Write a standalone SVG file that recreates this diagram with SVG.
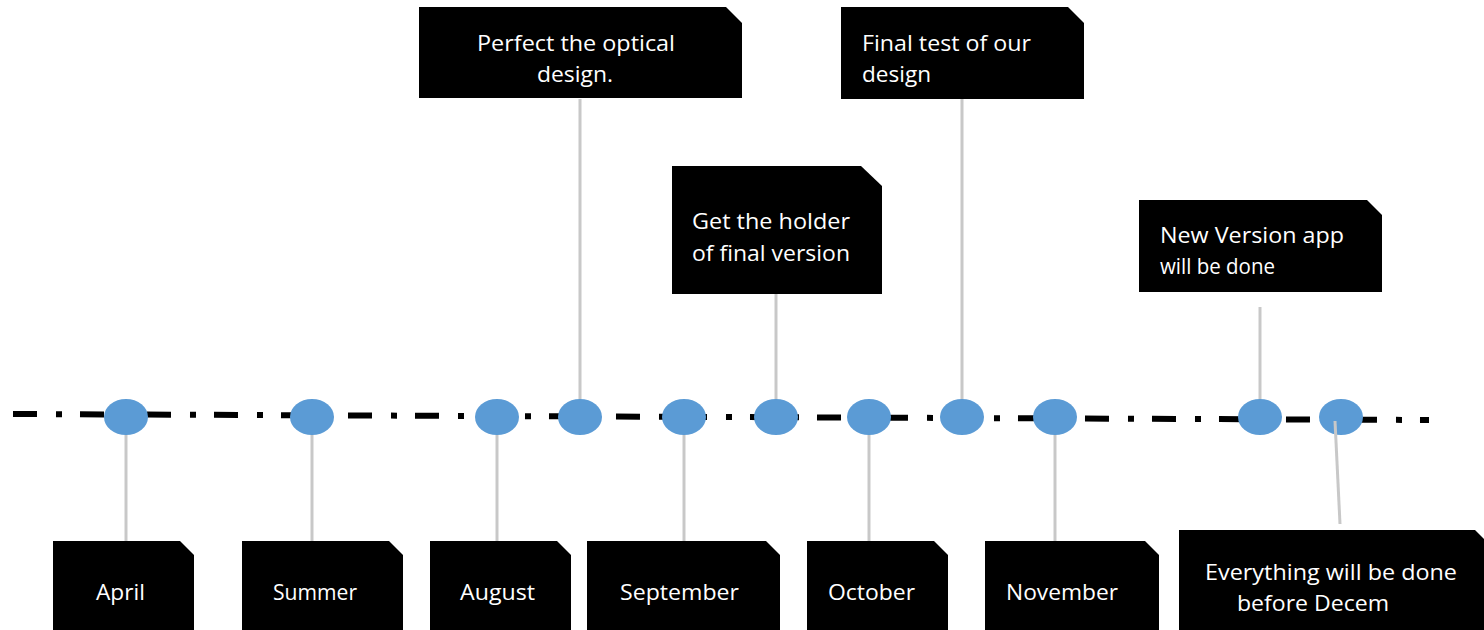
<svg xmlns="http://www.w3.org/2000/svg" width="1484" height="630" viewBox="0 0 1484 630">
<style>
.box{fill:#000}
.t{font-family:"Open Sans","Liberation Sans",sans-serif;font-size:22px;fill:#fff}
.c{text-anchor:middle}
.conn{stroke:#c8c8c8;stroke-width:3;fill:none}
.dot{fill:#5b9bd5}
</style>
<rect width="1484" height="630" fill="#fff"/>
<g id="connectors">
<line x1="13" y1="414" x2="1429" y2="420" stroke="#000" stroke-width="6" stroke-dasharray="24 19 6 18"/>
<line class="conn" x1="580" y1="99" x2="580" y2="417"/>
<line class="conn" x1="776" y1="294" x2="776" y2="417"/>
<line class="conn" x1="962" y1="99" x2="962" y2="417"/>
<line class="conn" x1="1260" y1="307" x2="1260" y2="417"/>
<line class="conn" x1="126" y1="417" x2="126" y2="541"/>
<line class="conn" x1="312" y1="417" x2="312" y2="541"/>
<line class="conn" x1="497" y1="417" x2="497" y2="541"/>
<line class="conn" x1="684" y1="417" x2="684" y2="541"/>
<line class="conn" x1="869" y1="417" x2="869" y2="541"/>
<line class="conn" x1="1055" y1="417" x2="1055" y2="541"/>
</g>
<g id="markers">
<ellipse class="dot" cx="126" cy="417" rx="22" ry="18"/>
<ellipse class="dot" cx="312" cy="417" rx="22" ry="18"/>
<ellipse class="dot" cx="497" cy="417" rx="22" ry="18"/>
<ellipse class="dot" cx="580" cy="417" rx="22" ry="18"/>
<ellipse class="dot" cx="684" cy="417" rx="22" ry="18"/>
<ellipse class="dot" cx="776" cy="417" rx="22" ry="18"/>
<ellipse class="dot" cx="869" cy="417" rx="22" ry="18"/>
<ellipse class="dot" cx="962" cy="417" rx="22" ry="18"/>
<ellipse class="dot" cx="1055" cy="417" rx="22" ry="18"/>
<ellipse class="dot" cx="1260" cy="417" rx="22" ry="18"/>
<ellipse class="dot" cx="1341" cy="417" rx="22" ry="18"/>
</g>
<g id="connector-december">
<line class="conn" x1="1335" y1="421" x2="1340" y2="524"/>
</g>
<g id="n-optical">
<path class="box" d="M419 7H726L742 23V98H419Z"/>
<text class="t c" x="576" y="51" textLength="198" lengthAdjust="spacingAndGlyphs">Perfect the optical</text>
<text class="t c" x="575" y="82" textLength="76" lengthAdjust="spacingAndGlyphs">design.</text>
</g>
<g id="n-holder">
<path class="box" d="M672 166H861L882 186V294H672Z"/>
<text class="t" x="692" y="229" textLength="158" lengthAdjust="spacingAndGlyphs">Get the holder</text>
<text class="t" x="692" y="261" textLength="158" lengthAdjust="spacingAndGlyphs">of final version</text>
</g>
<g id="n-final">
<path class="box" d="M841 7H1068L1084 23V99H841Z"/>
<text class="t" x="862" y="51" textLength="169" lengthAdjust="spacingAndGlyphs">Final test of our</text>
<text class="t" x="862" y="82" textLength="69" lengthAdjust="spacingAndGlyphs">design</text>
</g>
<g id="n-newversion">
<path class="box" d="M1139 200H1367L1382 215V292H1139Z"/>
<text class="t" x="1160" y="243" textLength="184" lengthAdjust="spacingAndGlyphs">New Version app</text>
<text class="t" x="1160" y="274" textLength="115" lengthAdjust="spacingAndGlyphs">will be done</text>
</g>
<g id="n-april">
<path class="box" d="M53 541H180L194 555V630H53Z"/>
<text class="t c" x="120.5" y="600" textLength="49" lengthAdjust="spacingAndGlyphs">April</text>
</g>
<g id="n-summer">
<path class="box" d="M242 541H389L403 555V630H242Z"/>
<text class="t c" x="315" y="600" textLength="84" lengthAdjust="spacingAndGlyphs">Summer</text>
</g>
<g id="n-august">
<path class="box" d="M430 541H557L571 555V630H430Z"/>
<text class="t c" x="497.5" y="600" textLength="75" lengthAdjust="spacingAndGlyphs">August</text>
</g>
<g id="n-september">
<path class="box" d="M587 541H766L780 555V630H587Z"/>
<text class="t c" x="679.5" y="600" textLength="119" lengthAdjust="spacingAndGlyphs">September</text>
</g>
<g id="n-october">
<path class="box" d="M807 541H934L948 555V630H807Z"/>
<text class="t c" x="871.5" y="600" textLength="87" lengthAdjust="spacingAndGlyphs">October</text>
</g>
<g id="n-november">
<path class="box" d="M985 541H1145L1159 555V630H985Z"/>
<text class="t c" x="1062" y="600" textLength="112" lengthAdjust="spacingAndGlyphs">November</text>
</g>
<g id="n-everything">
<path class="box" d="M1179 530H1475L1490 545V630H1179Z"/>
<text class="t c" x="1331" y="580" textLength="252" lengthAdjust="spacingAndGlyphs">Everything will be done</text>
<text class="t c" x="1313" y="611" textLength="152" lengthAdjust="spacingAndGlyphs">before Decem</text>
</g>
</svg>
